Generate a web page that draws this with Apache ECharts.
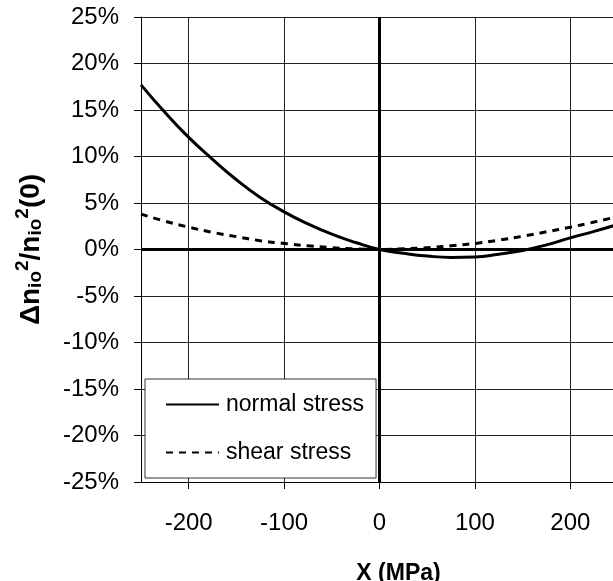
<!DOCTYPE html>
<html>
<head>
<meta charset="utf-8">
<script src="https://cdn.jsdelivr.net/npm/echarts@6/dist/echarts.min.js"></script>
<style>html,body{margin:0;padding:0;background:#fff}#c{width:613px;height:581px}</style>
</head>
<body>
<div id="c"></div>
<script>
// X (MPa)
const xValues = [-250,-225,-200,-175,-150,-125,-100,-75,-50,-25,0,25,50,75,100,125,150,175,200,225,250];
// Δn²/n²(0) in %
const normalStress = [17.7,14.75,12.05,9.7,7.5,5.6,4.05,2.75,1.65,0.75,0,-0.4,-0.7,-0.85,-0.8,-0.5,-0.1,0.5,1.25,1.95,2.7];
const shearStress = [3.8,3.05,2.4,1.85,1.38,0.95,0.65,0.4,0.2,0.07,0,0.07,0.2,0.4,0.65,1.0,1.42,1.9,2.4,2.95,3.55];
const xTickLabels = [-200,-100,0,100,200];
const seriesNames = ['normal stress','shear stress'];

const FONT = 'Liberation Sans, Arial, sans-serif';
const chart = echarts.init(document.getElementById('c'), null, {renderer:'canvas'});
const pair = (ys) => xValues.map((x,i)=>[x, ys[i]]);

chart.setOption({
  animation:false,
  backgroundColor:'#fff',
  grid:{left:141, top:17, right:-5, bottom:99, containLabel:false, outerBoundsMode:'none'},
  xAxis:{
    type:'value', min:-250, max:250, interval:50,
    axisLine:{show:true, onZero:false, lineStyle:{color:'#000', width:1}},
    axisTick:{show:true, customValues:xTickLabels, length:7, inside:false, lineStyle:{color:'#000', width:1}},
    axisLabel:{customValues:xTickLabels, margin:29, color:'#000', fontSize:24, fontFamily:FONT},
    splitLine:{show:true, lineStyle:{color:'#222', width:1}},
    name:'X (MPa)', nameLocation:'middle', nameGap:80,
    nameTextStyle:{color:'#000', fontSize:23, fontWeight:'bold', fontFamily:FONT, padding:[0,0,0,38]}
  },
  yAxis:{
    type:'value', min:-25, max:25, interval:5,
    axisLine:{show:true, onZero:false, lineStyle:{color:'#000', width:1}},
    axisTick:{show:true, length:7, lineStyle:{color:'#000', width:1}},
    axisLabel:{margin:22, color:'#000', fontSize:24, fontFamily:FONT, formatter:(v)=>v+'%'},
    splitLine:{show:true, lineStyle:{color:'#222', width:1}},
    name:'{m|Δn}{s|io}{p|2}{m|/n}{s|io}{p|2}{m|(0)}',
    nameLocation:'middle', nameRotate:90, nameGap:89,
    nameTextStyle:{
      color:'#000', fontFamily:FONT,
      rich:{
        m:{fontSize:28, fontWeight:'bold', fontFamily:FONT, color:'#000', verticalAlign:'bottom', lineHeight:32},
        s:{fontSize:19, fontWeight:'bold', fontFamily:FONT, color:'#000', verticalAlign:'bottom', lineHeight:24},
        p:{fontSize:19, fontWeight:'bold', fontFamily:FONT, color:'#000', verticalAlign:'top', lineHeight:20, padding:[0,0,20,0]}
      }
    }
  },
  legend:{
    orient:'vertical', left:145, top:379,
    padding:[14,12,14,20], itemGap:25, itemWidth:53, itemHeight:14,
    backgroundColor:'#fff', borderColor:'#333', borderWidth:1, borderRadius:0,
    itemStyle:{opacity:0, color:'rgba(0,0,0,0)', borderWidth:0},
    textStyle:{color:'#000', fontSize:23, fontFamily:FONT, padding:[0,0,0,2]},
    data:seriesNames
  },
  series:[
    {
      name:seriesNames[0], type:'line', data:pair(normalStress), smooth:true,
      symbol:'none', lineStyle:{color:'#000', width:3, type:'solid'}, itemStyle:{color:'#000'},
      z:3,
      markLine:{
        silent:true, symbol:['none','none'], label:{show:false},
        lineStyle:{color:'#000', width:3, type:'solid'},
        data:[{xAxis:0},{yAxis:0}]
      }
    },
    {
      name:seriesNames[1], type:'line', data:pair(shearStress), smooth:true,
      symbol:'none', lineStyle:{color:'#000', width:3, type:[7,6]}, itemStyle:{color:'#000'},
      z:3
    }
  ]
});
</script>
</body>
</html>
